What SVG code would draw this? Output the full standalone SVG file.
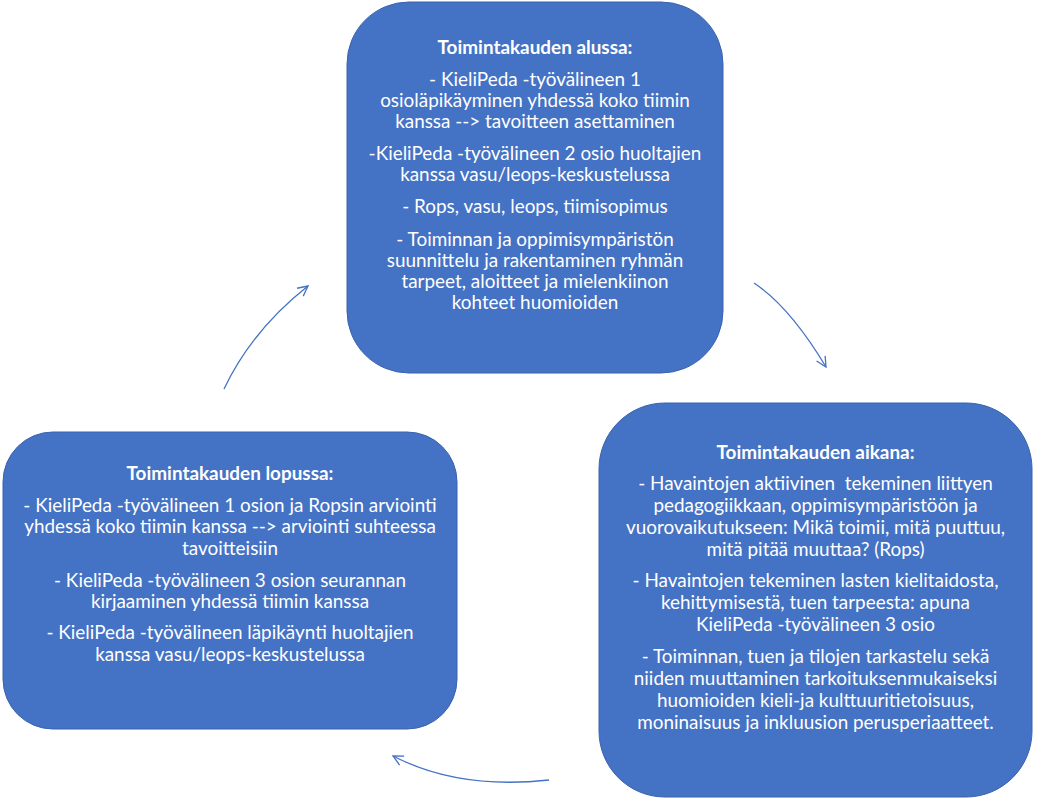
<svg xmlns="http://www.w3.org/2000/svg" width="1057" height="800" viewBox="0 0 1057 800">
<defs>
<style>
.box{fill:#4472C4;stroke:#3A62AD;stroke-width:1}
.t{font-family:Lato,"Liberation Sans",sans-serif;font-size:18.9px;fill:#FFFFFF;text-anchor:middle}
.b{font-weight:bold}
.conn{fill:none;stroke:#4472C4;stroke-width:1.3}
</style>
<marker id="ah" viewBox="0 0 12 12" refX="11" refY="6" markerWidth="12" markerHeight="12" markerUnits="userSpaceOnUse" orient="auto">
<path d="M1,1 L11,6 L1,11" fill="none" stroke="#4472C4" stroke-width="1.3"/>
</marker>
</defs>
<rect width="1057" height="800" fill="#FFFFFF"/>
<g id="node-alussa">
<rect class="box" x="347" y="2" width="376" height="371" rx="62" ry="62"/>
<text class="t b" x="535" y="54">Toimintakauden alussa:</text>
<text class="t" x="535" y="86">- KieliPeda -työvälineen 1</text>
<text class="t" x="535" y="107">osioläpikäyminen yhdessä koko tiimin</text>
<text class="t" x="535" y="128">kanssa --&gt; tavoitteen asettaminen</text>
<text class="t" x="535" y="160">-KieliPeda -työvälineen 2 osio huoltajien</text>
<text class="t" x="535" y="181">kanssa vasu/leops-keskustelussa</text>
<text class="t" x="535" y="213">- Rops, vasu, leops, tiimisopimus</text>
<text class="t" x="535" y="246">- Toiminnan ja oppimisympäristön</text>
<text class="t" x="535" y="267">suunnittelu ja rakentaminen ryhmän</text>
<text class="t" x="535" y="288">tarpeet, aloitteet ja mielenkiinon</text>
<text class="t" x="535" y="309">kohteet huomioiden</text>
</g>
<g id="node-aikana">
<rect class="box" x="599" y="403" width="433" height="394" rx="66" ry="66"/>
<text class="t b" x="815.5" y="459">Toimintakauden aikana:</text>
<text class="t" x="815.5" y="490" xml:space="preserve">- Havaintojen aktiivinen  tekeminen liittyen</text>
<text class="t" x="815.5" y="512">pedagogiikkaan, oppimisympäristöön ja</text>
<text class="t" x="815.5" y="534">vuorovaikutukseen: Mikä toimii, mitä puuttuu,</text>
<text class="t" x="815.5" y="556">mitä pitää muuttaa? (Rops)</text>
<text class="t" x="815.5" y="587">- Havaintojen tekeminen lasten kielitaidosta,</text>
<text class="t" x="815.5" y="609">kehittymisestä, tuen tarpeesta: apuna</text>
<text class="t" x="815.5" y="631">KieliPeda -työvälineen 3 osio</text>
<text class="t" x="815.5" y="663">- Toiminnan, tuen ja tilojen tarkastelu sekä</text>
<text class="t" x="815.5" y="685">niiden muuttaminen tarkoituksenmukaiseksi</text>
<text class="t" x="815.5" y="707">huomioiden kieli-ja kulttuuritietoisuus,</text>
<text class="t" x="815.5" y="729">moninaisuus ja inkluusion perusperiaatteet.</text>
</g>
<g id="node-lopussa">
<rect class="box" x="3" y="432" width="454" height="297" rx="50" ry="50"/>
<text class="t b" x="230" y="480">Toimintakauden lopussa:</text>
<text class="t" x="230" y="512">- KieliPeda -työvälineen 1 osion ja Ropsin arviointi</text>
<text class="t" x="230" y="533">yhdessä koko tiimin kanssa --&gt; arviointi suhteessa</text>
<text class="t" x="230" y="555">tavoitteisiin</text>
<text class="t" x="230" y="587">- KieliPeda -työvälineen 3 osion seurannan</text>
<text class="t" x="230" y="608">kirjaaminen yhdessä tiimin kanssa</text>
<text class="t" x="230" y="639">- KieliPeda -työvälineen läpikäynti huoltajien</text>
<text class="t" x="230" y="661">kanssa vasu/leops-keskustelussa</text>
</g>
<g id="connectors">
<path class="conn" d="M224,389 Q252,330 308,286" marker-end="url(#ah)"/>
<path class="conn" d="M754,283 Q790,307 826,367" marker-end="url(#ah)"/>
<path class="conn" d="M549,780 Q459,790 393,756" marker-end="url(#ah)"/>
</g>
</svg>
